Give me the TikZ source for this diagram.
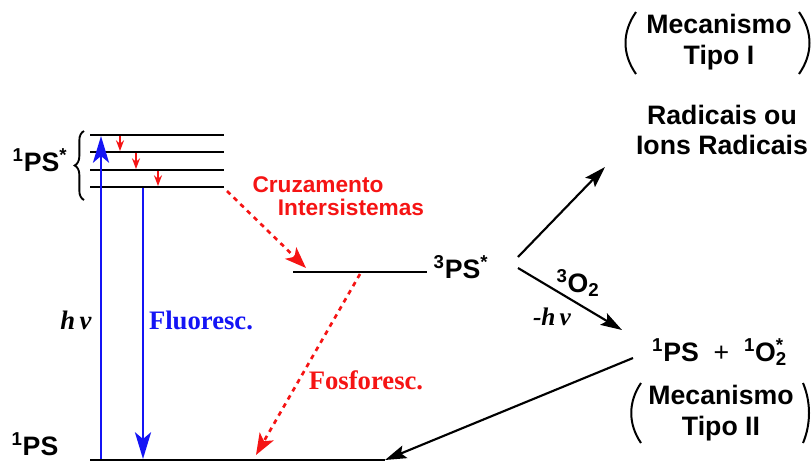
\documentclass[tikz,border=0pt]{standalone}
\usepackage{fontspec}
\setmainfont{Liberation Sans}
\newfontfamily\timesfont{Liberation Serif}
\usepackage{xcolor}
\definecolor{fluoBlue}{HTML}{1414F5}
\definecolor{phosRed}{HTML}{F51414}
\usetikzlibrary{arrows.meta,decorations.pathreplacing}

\tikzset{
  level/.style={line width=1.9pt},
  absArrow/.style={fluoBlue, line width=2.2pt, -{Stealth[length=20pt, width=12pt, inset=5pt]}},
  relaxArrow/.style={phosRed, line width=1.2pt, -{Stealth[length=8pt, width=6pt]}},
  dashArrow/.style={phosRed, line width=2pt, dash pattern=on 3.5pt off 3.5pt, -{Stealth[length=16pt, width=12pt, inset=4pt]}},
  reactArrow/.style={line width=1.6pt, -{Stealth[length=16pt, width=10pt, inset=3pt]}},
  paren/.style={line width=1.5pt},
  redLabel/.style={phosRed, font=\fontsize{17}{20}\selectfont\bfseries},
  serifLabel/.style={font=\fontsize{20}{23}\selectfont\bfseries\timesfont}
}

\begin{document}
\begin{tikzpicture}[x=0.75pt, y=-0.75pt, font=\fontsize{20}{23}\selectfont\bfseries]
  \useasboundingbox (0,0) rectangle (811,462);
  \foreach \y [count=\i] in {135,152,170,187}
    \draw[level] (90,\y) coordinate (L\i w) -- (224,\y) coordinate (L\i e);
  \draw[level] (90,460) coordinate (Gw) -- (385,460) coordinate (Ge);
  \draw[level] (293,272) coordinate (Tw) -- (427,272) coordinate (Te);
  \node (singlet) at (40,160) {\textsuperscript{1}PS\textsuperscript{*}};
  \draw[decorate, decoration={brace, amplitude=7pt}, line width=1.4pt] (84,200) -- (84,131);
  \node (ground) at (35,444) {\textsuperscript{1}PS};
  \node[anchor=west] (triplet) at (429,267) {\textsuperscript{3}PS\textsuperscript{*}};
  \coordinate (r1a) at (120,136); \coordinate (r1b) at (120,151);
  \coordinate (r2a) at (136,153); \coordinate (r2b) at (136,169);
  \coordinate (r3a) at (158,171); \coordinate (r3b) at (158,186);
  \draw[relaxArrow] (r1a) -- (r1b);
  \draw[relaxArrow] (r2a) -- (r2b);
  \draw[relaxArrow] (r3a) -- (r3b);
  \coordinate (absB) at (101,459); \coordinate (absT) at (101,136);
  \coordinate (fluT) at (143,188); \coordinate (fluB) at (143,459);
  \draw[absArrow] (absB) -- (absT);
  \draw[absArrow] (fluT) -- (fluB);
  \node[serifLabel] (hnu) at (76,320) {\itshape h\,ν};
  \node[serifLabel, fluoBlue] (fluo) at (201,320) {Fluoresc.};
  \coordinate (iscA) at (227,191); \coordinate (iscB) at (306,268);
  \draw[dashArrow] (iscA) -- (iscB);
  \node[redLabel] (cruz) at (318,185) {Cruzamento};
  \node[redLabel] (inter) at (351,207) {Intersistemas};
  \coordinate (phoA) at (360,274); \coordinate (phoB) at (256,455);
  \draw[dashArrow] (phoA) -- (phoB);
  \node[serifLabel, phosRed] (phos) at (366,380) {Fosforesc.};
  \node[align=center] (mech1) at (719,42) {Mecanismo\\Tipo I};
  \draw[paren] (636,12) .. controls (622,32) and (622,54) .. (636,74);
  \draw[paren] (799,12) .. controls (813,32) and (813,54) .. (799,74);
  \node[align=center] (radic) at (722,130) {Radicais ou\\Ions Radicais};
  \node (products) at (718,352) {\textsuperscript{1}PS\;\;{\mdseries +}\;\;\textsuperscript{1}O\rlap{\textsubscript{2}}\textsuperscript{*}};
  \node[align=center] (mech2) at (721,413) {Mecanismo\\Tipo II};
  \draw[paren] (641,383) .. controls (628,402) and (628,424) .. (641,443);
  \draw[paren] (803,383) .. controls (811,402) and (811,424) .. (803,443);
  \coordinate (typ1A) at (518,257); \coordinate (typ1B) at (605,167);
  \coordinate (typ2A) at (518,268); \coordinate (typ2B) at (622,330);
  \coordinate (backA) at (633,358);
  \draw[reactArrow] (typ1A) -- (typ1B);
  \draw[reactArrow] (typ2A) -- (typ2B);
  \draw[reactArrow] (backA) -- (Ge);
  \node (oxy) at (578,283) {\textsuperscript{3}O\textsubscript{2}};
  \node[font=\fontsize{19}{21}\selectfont\timesfont\bfseries\itshape] (minushnu) at (552,317) {-h\,ν};
\end{tikzpicture}
\end{document}
